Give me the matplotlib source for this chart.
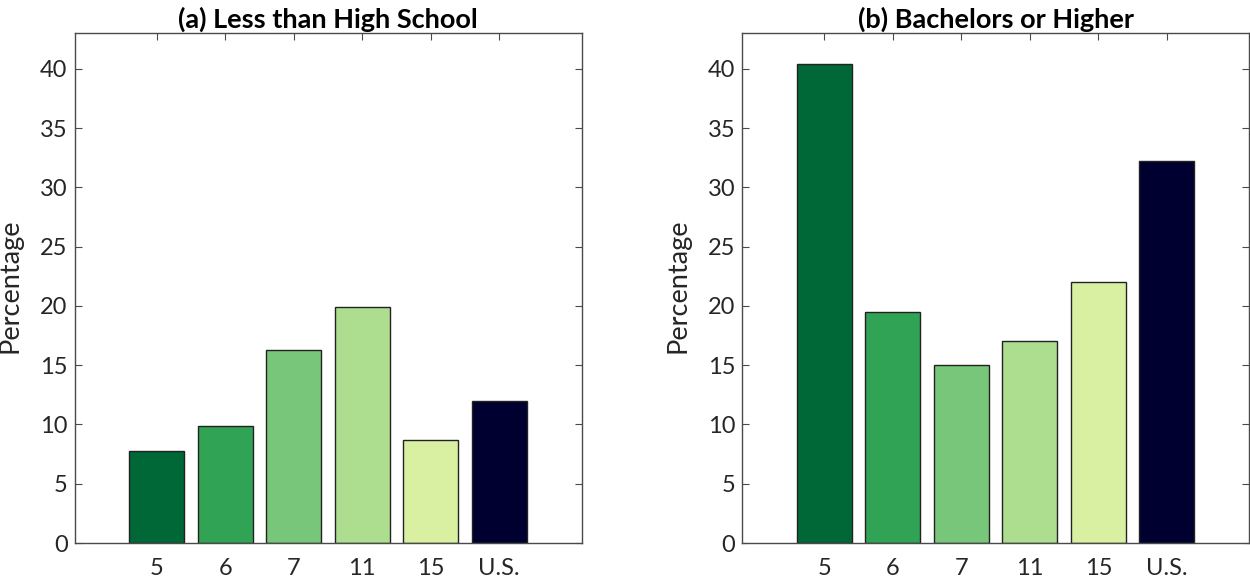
import matplotlib
matplotlib.use("Agg")
import matplotlib.pyplot as plt
import numpy as np

plt.rcParams['font.family'] = ['Lato', 'DejaVu Sans']

# Data
categories = ["5", "6", "7", "11", "15", "U.S."]
less_than_hs = [7.8, 9.9, 16.3, 19.9, 8.7, 12.0]
bachelors = [40.4, 19.5, 15.0, 17.0, 22.0, 32.2]
titles = ["(a) Less than High School", "(b) Bachelors or Higher"]
bar_colors = ["#006837", "#31a354", "#78c679", "#addd8e", "#d9f0a3", "#000030"]

axis_color = "#4a4a4a"
text_color = "#262626"

fig = plt.figure(figsize=(12.5, 5.82), dpi=100)
ax1 = fig.add_axes([0.0596, 0.067, 0.4056, 0.876])
ax2 = fig.add_axes([0.5936, 0.067, 0.4056, 0.876])

for ax, values, title in zip([ax1, ax2], [less_than_hs, bachelors], titles):
    x = np.arange(1, len(categories) + 1)
    ax.bar(x, values, width=0.8, color=bar_colors,
           edgecolor="#222222", linewidth=1.0, zorder=2)

    ax.set_xlim(-0.2, 7.2)
    ax.set_ylim(0, 43)
    ax.set_xticks(x)
    ax.set_xticklabels(categories)
    ax.set_yticks(np.arange(0, 41, 5))

    ax.tick_params(direction="in", length=5, width=0.8, color=axis_color,
                   labelcolor=text_color, labelsize=17,
                   top=True, right=True)
    ax.tick_params(axis="x", pad=11)
    ax.tick_params(axis="y", pad=5)
    for spine in ax.spines.values():
        spine.set_color(axis_color)
        spine.set_linewidth(1.0)
        spine.set_zorder(3)

    ax.set_ylabel("Percentage", fontsize=19.5, color=text_color)
    ax.yaxis.set_label_coords(-0.102, 0.505)
    ax.set_title(title, fontsize=19.5, fontweight="bold", color="black", pad=4)

fig.savefig("out.png", dpi=100)
